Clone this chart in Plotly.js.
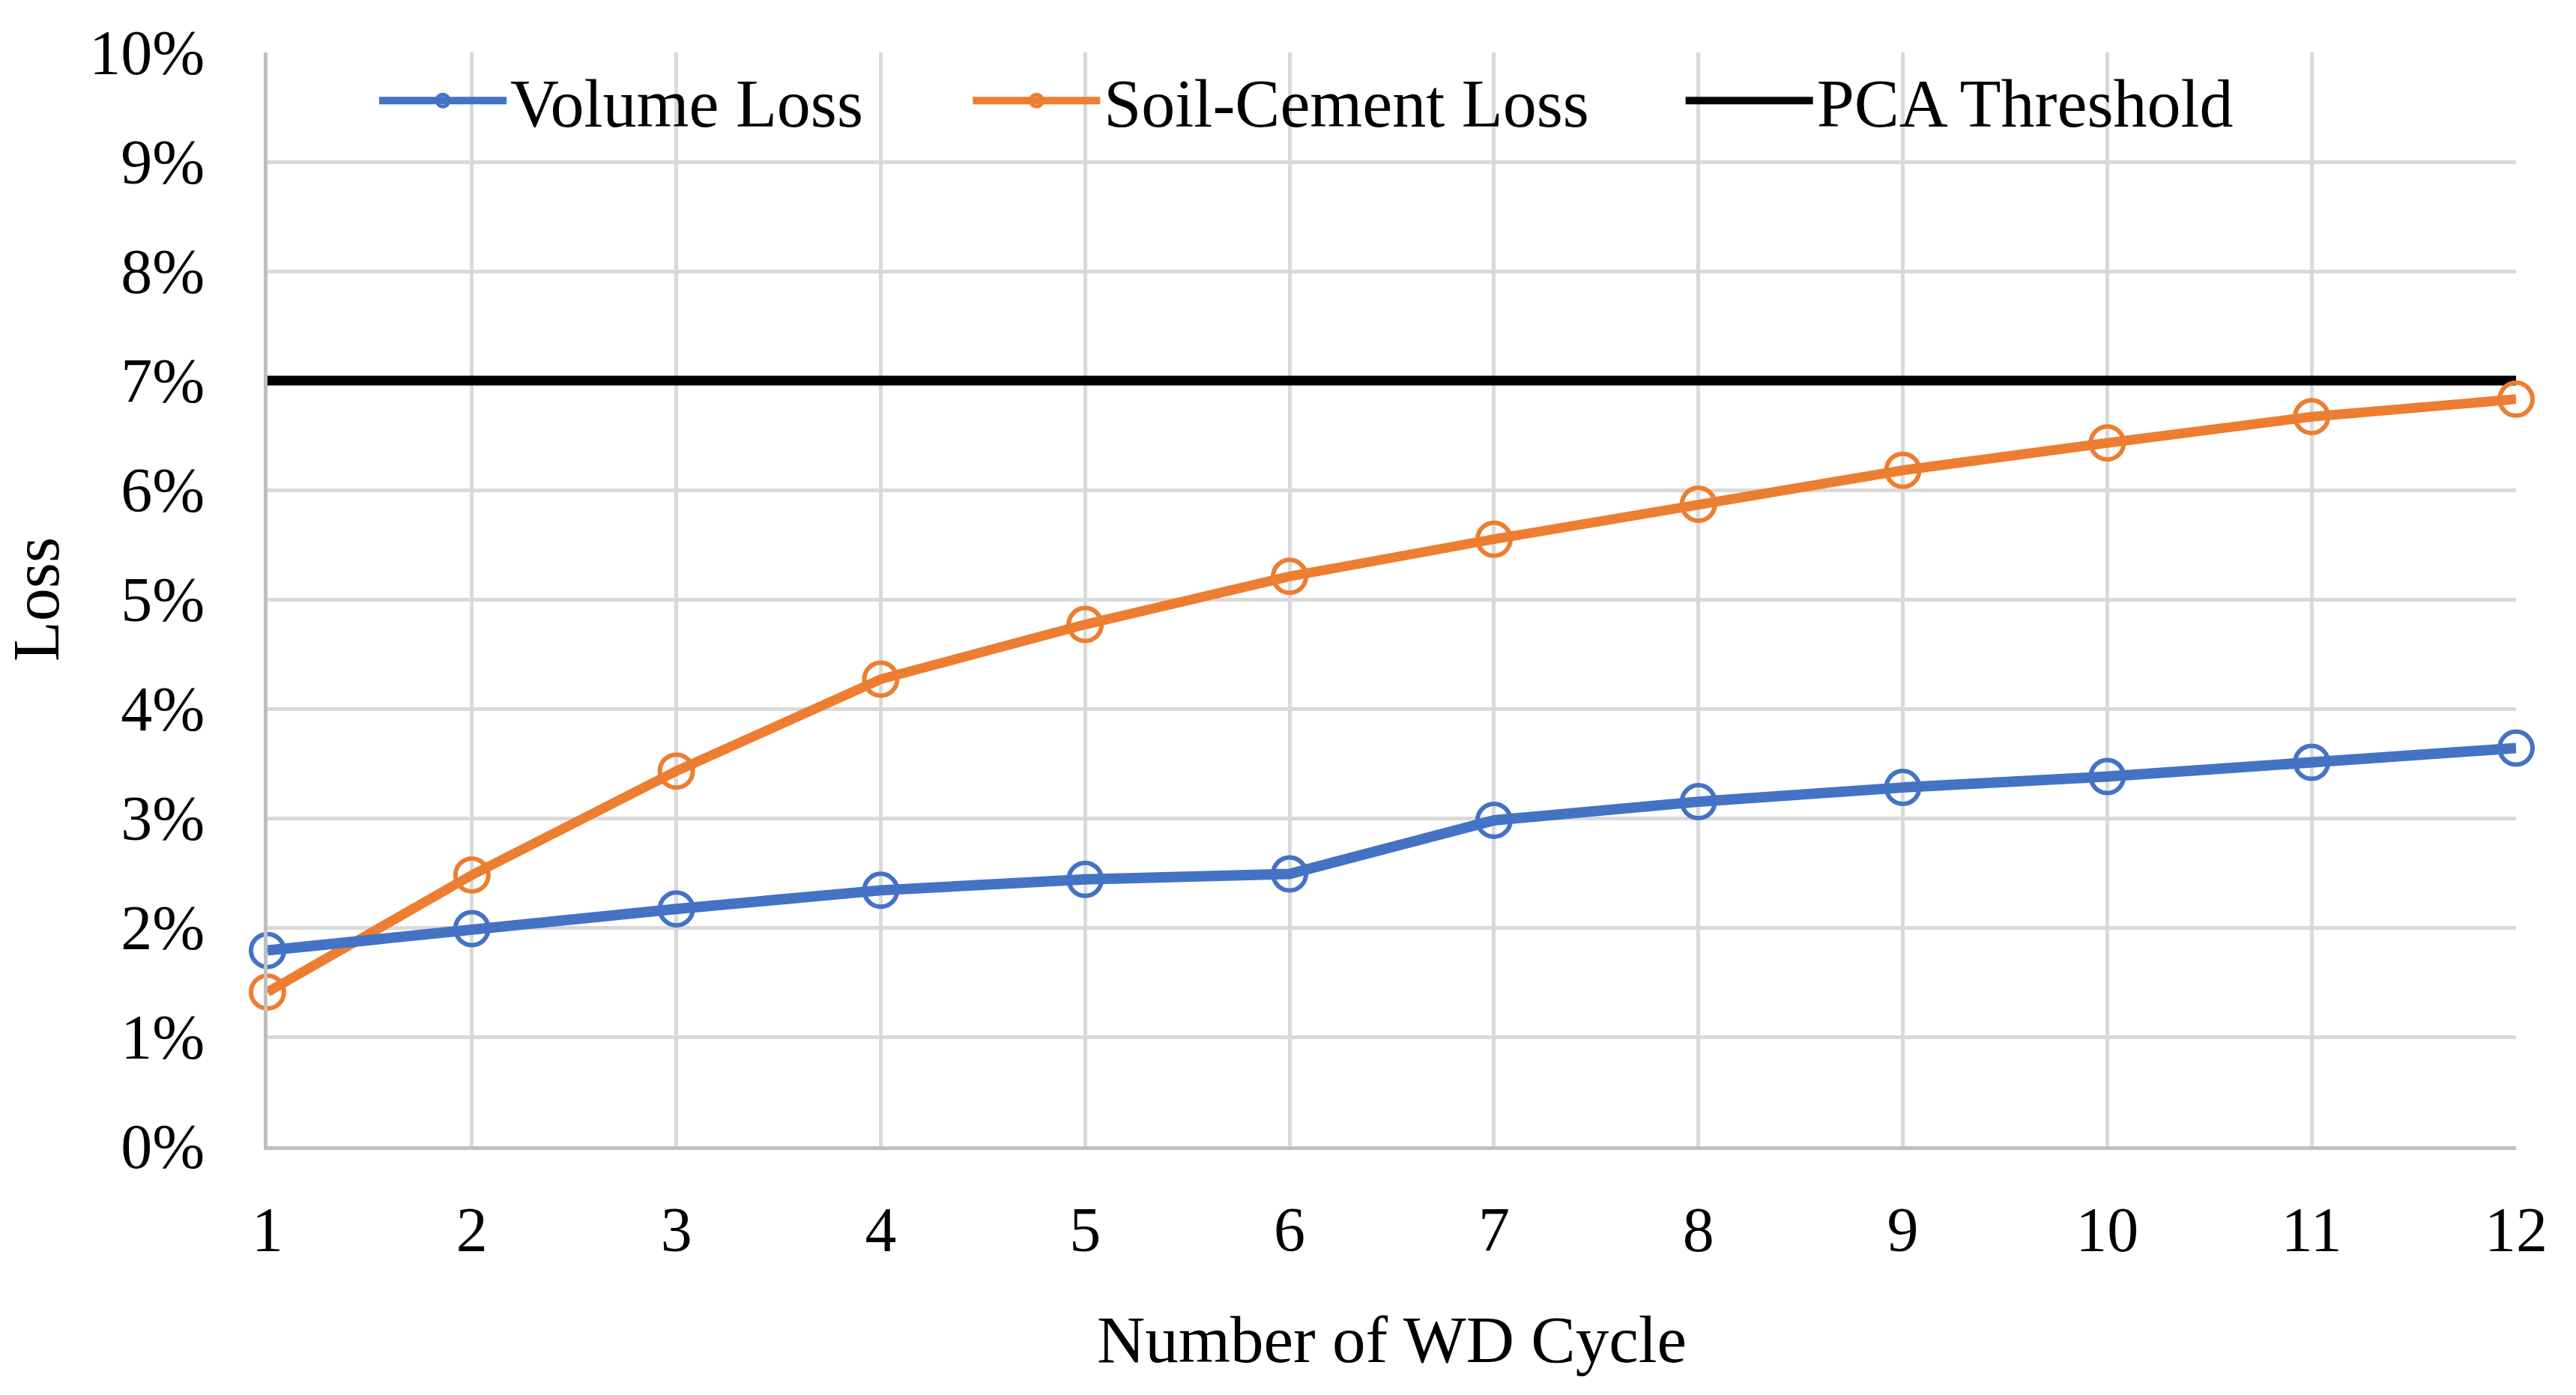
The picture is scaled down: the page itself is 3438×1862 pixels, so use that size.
<!DOCTYPE html>
<html>
<head>
<meta charset="utf-8">
<script src="https://cdn.plot.ly/plotly-3.0.1.min.js"></script>
<style>
  html, body { margin: 0; padding: 0; background: #fff; }
  #chart { width: 3438px; height: 1862px; }
</style>
</head>
<body>
<div id="chart"></div>
<script>
// wet-dry cycles
var cycles = [1, 2, 3, 4, 5, 6, 7, 8, 9, 10, 11, 12];

// losses (fractions)
var volumeLoss = [0.0179, 0.0199, 0.0217, 0.0234, 0.0244, 0.0249, 0.0298, 0.0315, 0.0328, 0.0338, 0.0351, 0.0364];
var soilCementLoss = [0.0141, 0.0248, 0.0343, 0.0427, 0.0477, 0.0521, 0.0555, 0.0587, 0.0618, 0.0643, 0.0667, 0.0683];
var pcaThreshold = [0.07, 0.07, 0.07, 0.07, 0.07, 0.07, 0.07, 0.07, 0.07, 0.07, 0.07, 0.07];

var yTicks = [0, 0.01, 0.02, 0.03, 0.04, 0.05, 0.06, 0.07, 0.08, 0.09, 0.10];

var serif = 'Liberation Serif, Times New Roman, serif';

var trace1 = {
    x: cycles,
    y: volumeLoss,
    name: 'Volume Loss',
    mode: 'lines+markers',
    line: { color: '#4472C4', width: 14 },
    marker: { symbol: 'circle-open', size: 44, color: '#4472C4', line: { width: 6 } },
    cliponaxis: false,
    legend: 'legend'
};

var trace2 = {
    x: cycles,
    y: soilCementLoss,
    name: 'Soil-Cement Loss',
    mode: 'lines+markers',
    line: { color: '#ED7D31', width: 13 },
    marker: { symbol: 'circle-open', size: 44, color: '#ED7D31', line: { width: 6 } },
    cliponaxis: false,
    legend: 'legend2'
};

var trace3 = {
    x: cycles,
    y: pcaThreshold,
    name: 'PCA Threshold',
    mode: 'lines',
    line: { color: '#000000', width: 13 },
    cliponaxis: false,
    legend: 'legend3'
};

var data = [trace3, trace2, trace1];

var legendBase = {
    orientation: 'h',
    yanchor: 'middle',
    y: 0.956,
    xanchor: 'left',
    bgcolor: 'rgba(0,0,0,0)',
    itemwidth: 170,
    font: { family: serif, size: 90, color: '#000' }
};

var layout = {
    width: 3438,
    height: 1862,
    paper_bgcolor: '#fff',
    plot_bgcolor: '#fff',
    font: { family: serif, size: 84, color: '#000' },
    margin: { l: 357, r: 80, t: 70, b: 332 },
    showlegend: true,
    legend: Object.assign({}, legendBase, { x: 0.048 }),
    legend2: Object.assign({}, legendBase, { x: 0.312 }),
    legend3: Object.assign({}, legendBase, { x: 0.629 }),
    xaxis: {
        range: [1, 12],
        tickvals: cycles,
        showgrid: true,
        gridcolor: '#D9D9D9',
        gridwidth: 5,
        showline: true,
        linecolor: '#BFBFBF',
        linewidth: 5,
        zeroline: false,
        ticks: '',
        ticklabelstandoff: 34,
        tickfont: { family: serif, size: 84, color: '#000' },
        title: { text: 'Number of WD Cycle', standoff: 70, font: { family: serif, size: 89, color: '#000' } }
    },
    yaxis: {
        range: [0, 0.1],
        tickvals: yTicks,
        tickformat: '.0%',
        showgrid: true,
        gridcolor: '#D9D9D9',
        gridwidth: 5,
        showline: true,
        linecolor: '#BFBFBF',
        linewidth: 5,
        zeroline: false,
        ticks: '',
        ticklabelstandoff: 62,
        tickfont: { family: serif, size: 84, color: '#000' },
        title: { text: 'Loss', standoff: 22, font: { family: serif, size: 88, color: '#000' } }
    }
};

var config = { staticPlot: true };

Plotly.newPlot('chart', data, layout, config);
</script>
</body>
</html>
